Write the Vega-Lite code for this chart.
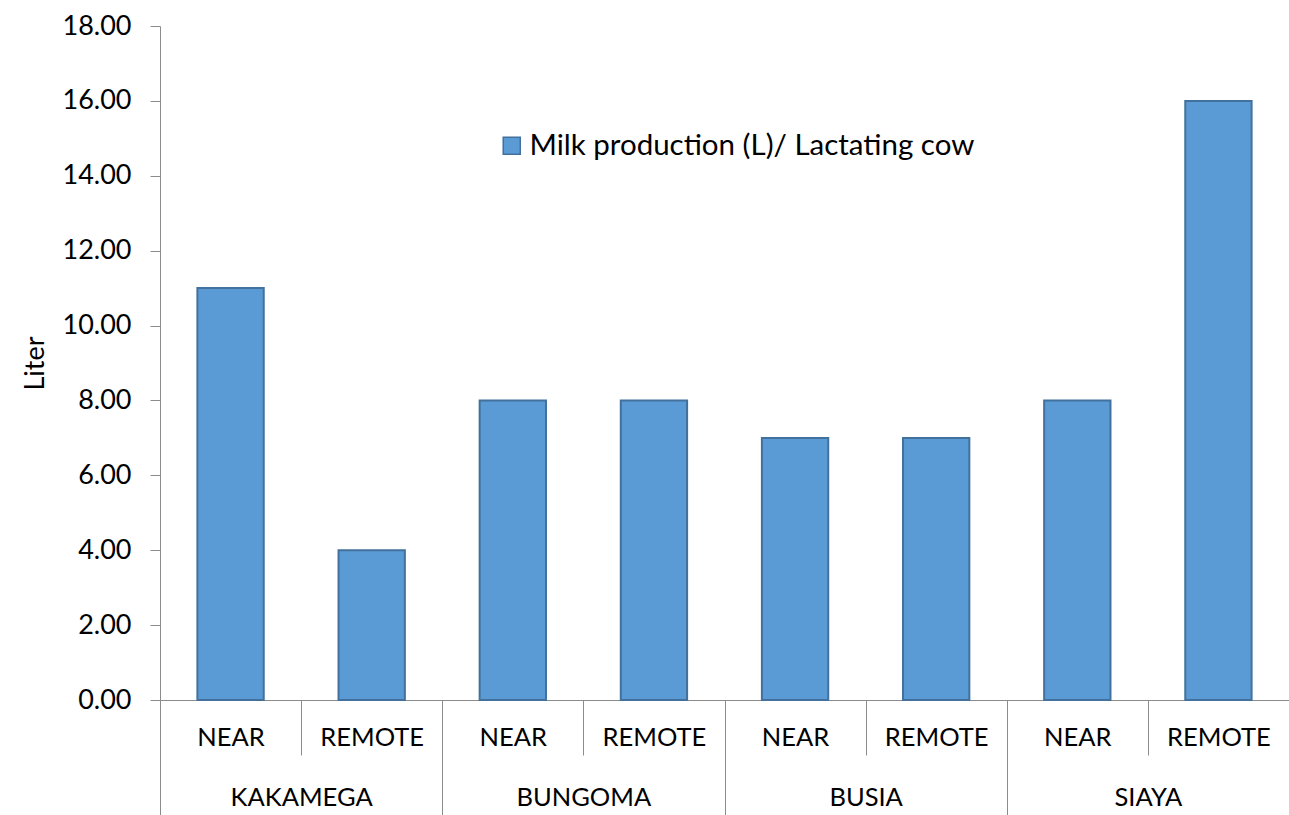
{
  "$schema": "https://vega.github.io/schema/vega-lite/v6.json",
  "autosize": "none",
  "width": 1129,
  "height": 674,
  "padding": {"left": 160, "top": 26, "right": 0, "bottom": 115},
  "background": "white",
  "config": {
    "view": {"stroke": null},
    "font": "Lato",
    "axis": {"labelFont": "Lato", "titleFont": "Lato", "labelColor": "#000000", "titleColor": "#000000", "domainColor": "#8c8c8c", "tickColor": "#8c8c8c", "grid": false}
  },
  "data": {
    "values": [
      {"region": "KAKAMEGA", "site": "NEAR", "liters": 11},
      {"region": "KAKAMEGA", "site": "REMOTE", "liters": 4},
      {"region": "BUNGOMA", "site": "NEAR", "liters": 8},
      {"region": "BUNGOMA", "site": "REMOTE", "liters": 8},
      {"region": "BUSIA", "site": "NEAR", "liters": 7},
      {"region": "BUSIA", "site": "REMOTE", "liters": 7},
      {"region": "SIAYA", "site": "NEAR", "liters": 8},
      {"region": "SIAYA", "site": "REMOTE", "liters": 16}
    ]
  },
  "transform": [{"calculate": "datum.region + '|' + datum.site", "as": "cat"}],
  "layer": [
    {
      "mark": {"type": "bar", "width": {"band": 0.47}, "stroke": "#41719C", "strokeWidth": 2},
      "encoding": {
        "x": {
          "field": "cat", "type": "nominal", "sort": null,
          "scale": {"paddingInner": 0, "paddingOuter": 0},
          "axis": {
            "orient": "bottom", "title": null, "labelAngle": 0,
            "labelExpr": "split(datum.label, '|')[1]",
            "labelFontSize": 25.5, "tickBand": "extent", "tickSize": 55,
            "labelPadding": -30, "domain": true
          }
        },
        "y": {
          "field": "liters", "type": "quantitative",
          "scale": {"domain": [0, 18], "nice": false},
          "axis": {
            "title": "Liter", "titleFontSize": 27, "titleFontWeight": "normal",
            "values": [0, 2, 4, 6, 8, 10, 12, 14, 16, 18], "format": ".2f",
            "labelFontSize": 27, "tickSize": 10, "labelPadding": 19, "titlePadding": 12
          }
        },
        "color": {
          "datum": "Milk production (L)/ Lactating cow", "type": "nominal",
          "scale": {"range": ["#5B9BD5"]},
          "legend": {
            "title": null, "orient": "none", "legendX": 337, "legendY": 105,
            "labelFontSize": 29.5, "labelFont": "Lato", "labelColor": "#000000", "labelLimit": 0,
            "symbolType": "square", "symbolSize": 290, "symbolStrokeColor": "#41719C",
            "symbolStrokeWidth": 1.5, "labelOffset": 3
          }
        }
      }
    },
    {
      "mark": {"type": "rule", "opacity": 0},
      "encoding": {
        "x": {
          "field": "region", "type": "nominal", "sort": null,
          "scale": {"paddingInner": 0, "paddingOuter": 0},
          "axis": {
            "orient": "bottom", "title": null, "labelAngle": 0, "domain": false,
            "labelFontSize": 25.5, "tickBand": "extent", "tickSize": 115,
            "labelPadding": -30
          }
        }
      }
    }
  ],
  "resolve": {"scale": {"x": "independent"}, "axis": {"x": "independent"}}
}
